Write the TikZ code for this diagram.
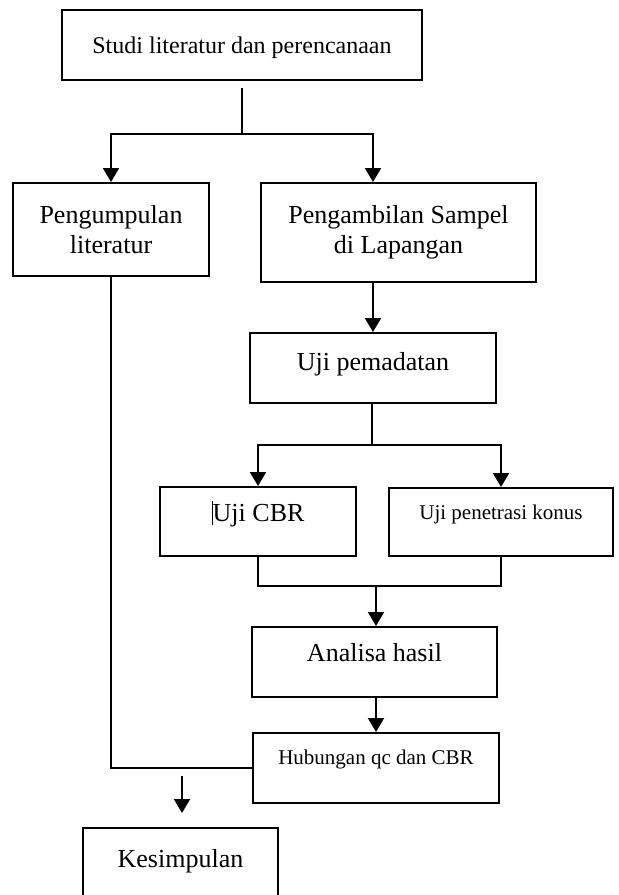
\documentclass[tikz,border=0pt]{standalone}
\usepackage{fontspec}
\setmainfont{Liberation Serif}
\usepackage{tikz}
\usetikzlibrary{arrows.meta}

\begin{document}
\begin{tikzpicture}[x=0.5pt,y=-0.5pt,line width=1pt,
  box/.style={draw,rectangle,inner sep=0pt,align=center},
  big/.style={font=\fontsize{13}{15}\selectfont},
  mid/.style={font=\fontsize{12}{14}\selectfont},
  small/.style={font=\fontsize{10.5}{12.5}\selectfont},
  arr/.style={-{Triangle[length=7pt,width=8pt]}}]
\useasboundingbox (0,0) rectangle (619,895);

\node[box,mid,minimum width=180pt,minimum height=35pt,text height=8.4pt,text depth=0.4pt] (studi) at (242,45) {Studi literatur dan perencanaan};
\node[box,big,minimum width=98pt,minimum height=46.5pt] (kumpul) at (111,229.5) {Pengumpulan\\literatur};
\node[box,big,minimum width=137.5pt,minimum height=49.5pt] (ambil) at (398.5,232.5) {Pengambilan Sampel\\di Lapangan};
\node[box,big,minimum width=123pt,minimum height=35pt,text height=9.1pt,text depth=6.4pt] (padat) at (373,368) {Uji pemadatan};
\node[box,big,minimum width=98pt,minimum height=34.5pt,text height=9.1pt,text depth=8.9pt] (cbr) at (258,521.5) {\rule[-1.5pt]{0.6pt}{12pt}Uji CBR};
\node[box,small,minimum width=112pt,minimum height=34pt,text height=7.35pt,text depth=10pt] (konus) at (501,522) {Uji penetrasi konus};
\node[box,big,minimum width=122.5pt,minimum height=35pt,text height=9.1pt,text depth=9.4pt] (analisa) at (374.5,662) {Analisa hasil};
\node[box,small,minimum width=123pt,minimum height=35pt,text height=7.35pt,text depth=11.35pt] (hubungan) at (376,768) {Hubungan qc dan CBR};
\node[box,big,minimum width=97.5pt,minimum height=35pt,text height=9.1pt,text depth=5pt] (simpul) at (180.5,863) {Kesimpulan};

\coordinate (split1) at (241,134);
\coordinate (split2) at (372,445);
\coordinate (join) at (376,586);
\coordinate (down) at (182,776);

% percabangan atas
\draw[shorten <=3.5pt] (studi.south) -- (studi.south |- split1);
\draw[arr] (split1) -| (kumpul.north);
\draw[arr] (split1) -| (padat.north |- ambil.north);
\draw[arr] (padat.north |- ambil.south) -- (padat.north);

% uji laboratorium
\draw (split2 |- padat.south) -- (split2);
\draw[arr] (split2) -| (cbr.north);
\draw[arr] (split2) -| (konus.north);
\draw (cbr.south) |- (join) -| (konus.south);
\draw[arr] (join) -- (join |- analisa.north);
\draw[arr] (join |- analisa.south) -- (join |- hubungan.north);

% ke kesimpulan
\draw (kumpul.south) |- (hubungan.west);
\draw[arr,shorten >=7pt] (down) -- (down |- simpul.north);
\end{tikzpicture}
\end{document}
